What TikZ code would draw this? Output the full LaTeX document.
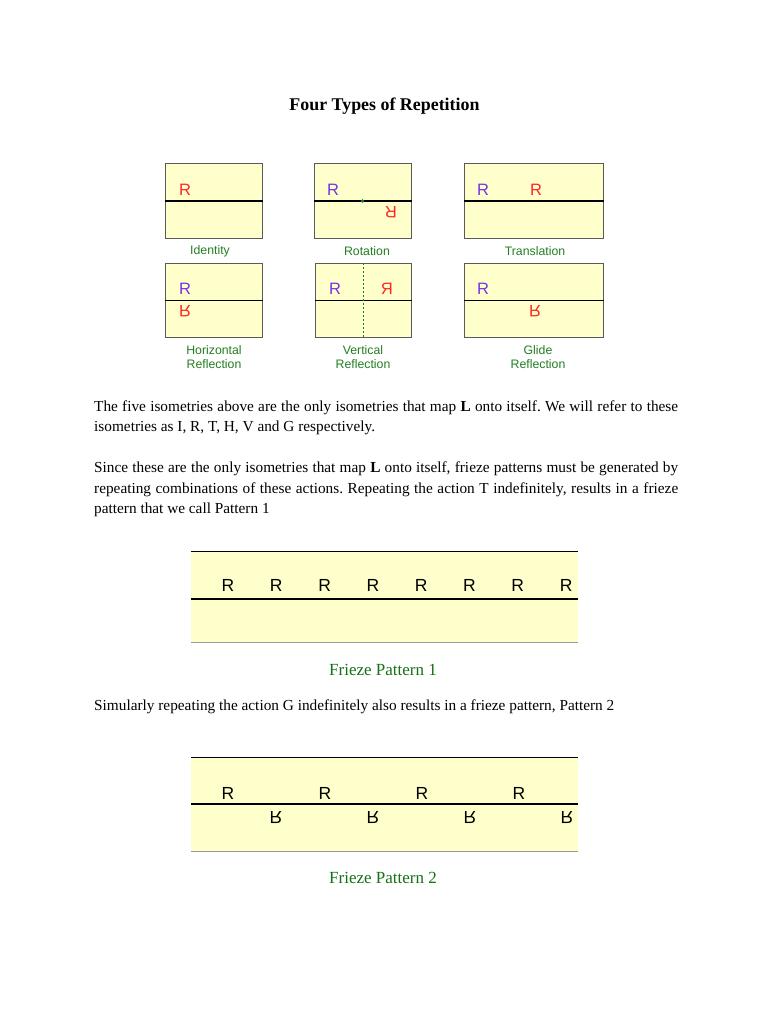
\documentclass[tikz,border=0pt]{standalone}
\usepackage{fontspec}
\setmainfont{Liberation Serif}
\newfontfamily\figfont{Liberation Sans}
\usetikzlibrary{positioning}
\frenchspacing
\definecolor{paleyellow}{HTML}{FFFFCC}
\definecolor{tileedge}{HTML}{5A5A5A}
\definecolor{bandedge}{HTML}{9A9A9A}
\definecolor{labelgreen}{HTML}{237F23}
\definecolor{captiongreen}{HTML}{157015}
\definecolor{glyphred}{HTML}{FF2626}
\definecolor{glyphpurple}{HTML}{7634E4}
\tikzset{
  tile/.style={draw=tileedge,fill=paleyellow,line width=1pt,minimum height=74pt,inner sep=0pt},
  band/.style={fill=paleyellow,minimum width=387pt,inner sep=0pt},
  midline/.style={draw=black,line width=1.3pt},
  glyph/.style={font=\figfont\fontsize{16.5}{17}\selectfont,inner sep=0pt},
  bigglyph/.style={font=\figfont\fontsize{17.5}{18}\selectfont,inner sep=0pt,text=black},
  tilelabel/.style={font=\figfont\fontsize{12.3}{14}\selectfont,text=labelgreen,align=center,inner sep=0pt},
  prose/.style={font=\fontsize{15.3}{20.5}\selectfont,anchor=base west,inner sep=0pt},
  figcaption/.style={font=\fontsize{17}{20}\selectfont,text=captiongreen,anchor=base,inner sep=0pt}
}
\begin{document}
\begin{tikzpicture}[x=1pt,y=-1pt,
  mirrorline/.style={draw=labelgreen,line width=1pt,dash pattern=on 2pt off 2pt}]
  \useasboundingbox[fill=white] (0,0) rectangle (768,1024);
  \node[anchor=base,font=\bfseries\fontsize{17.9}{20}\selectfont] (title) at (384.5,111) {Four Types of Repetition};

  % the six isometries
  \node[tile,minimum width=97pt] (ident) at (213.5,201) {};
  \node[tile,minimum width=97pt] (rot) at (362.5,201) {};
  \node[tile,minimum width=139pt] (trans) at (533.5,201) {};
  \node[tile,minimum width=97pt] (horiz) at (213.5,300.5) {};
  \node[tile,minimum width=96pt] (vert) at (363,300.5) {};
  \node[tile,minimum width=139pt] (glide) at (533.5,300.5) {};
  \foreach \t in {ident,rot,trans,horiz,vert,glide}
    \draw[midline,line width=1.2pt] (\t.west) -- (\t.east);
  \draw[mirrorline] (vert.north) -- (vert.south);
  \fill[labelgreen] (rot.center) circle (1.8pt);

  \node[glyph,text=glyphred] (identR) at (185,190) {R};
  \node[glyph,text=glyphpurple] (rotR) at (333,190) {R};
  \node[glyph,text=glyphred,rotate=180] (rotR2) at (391,212) {R};
  \node[glyph,text=glyphpurple] (transR) at (483,190) {R};
  \node[glyph,text=glyphred] (transR2) at (536,190) {R};
  \node[glyph,text=glyphpurple] (horizR) at (185,289) {R};
  \node[glyph,text=glyphred,yscale=-1] (horizR2) at (185,311) {R};
  \node[glyph,text=glyphpurple] (vertR) at (335,289) {R};
  \node[glyph,text=glyphred,xscale=-1] (vertR2) at (387,289) {R};
  \node[glyph,text=glyphpurple] (glideR) at (483,289) {R};
  \node[glyph,text=glyphred,yscale=-1] (glideR2) at (535,311) {R};

  \node[tilelabel] (identlab) at (210,251) {Identity};
  \node[tilelabel] (rotlab) at (367,251) {Rotation};
  \node[tilelabel] (translab) at (535,251) {Translation};
  \node[tilelabel] (horizlab) at (214,357.5) {Horizontal\\Reflection};
  \node[tilelabel] (vertlab) at (363,357.5) {Vertical\\Reflection};
  \node[tilelabel] (glidelab) at (538,357.5) {Glide\\Reflection};

  % text
  \node[prose] (para1a) at (94,411) {\makebox[584pt][s]{The five isometries above are the only isometries that map \textbf{L} onto itself. We will refer to these}};
  \node[prose] (para1b) at (94,431) {isometries as I, R, T, H, V and G respectively.};
  \node[prose] (para2a) at (94,472) {\makebox[584pt][s]{Since these are the only isometries that map \textbf{L} onto itself, frieze patterns must be generated by}};
  \node[prose] (para2b) at (94,493) {\makebox[584pt][s]{repeating combinations of these actions. Repeating the action T indefinitely, results in a frieze}};
  \node[prose] (para2c) at (94,513) {pattern that we call Pattern 1};

  % pattern 1
  \node[band,minimum height=90pt] (band1) at (384.5,597) {};
  \draw[black,line width=1pt] (band1.north west) -- (band1.north east);
  \draw[bandedge,line width=1pt] (band1.south west) -- (band1.south east);
  \draw[midline,line width=2pt] ([yshift=-2pt]band1.west) -- ([yshift=-2pt]band1.east);
  \foreach \i in {0,...,7}
    \node[bigglyph] (p1r\i) at (228+48.3*\i,585) {R};
  \node[figcaption] (cap1) at (383,675) {Frieze Pattern 1};

  \node[prose] (para3) at (94,710) {Simularly repeating the action G indefinitely also results in a frieze pattern, Pattern 2};

  % pattern 2
  \node[band,minimum height=93pt] (band2) at (384.5,804.5) {};
  \draw[black,line width=1pt] (band2.north west) -- (band2.north east);
  \draw[bandedge,line width=1pt] (band2.south west) -- (band2.south east);
  \draw[midline,line width=2pt] ([yshift=0.5pt]band2.west) -- ([yshift=0.5pt]band2.east);
  \foreach \i in {0,...,3} {
    \node[bigglyph] (p2a\i) at (228+97*\i,793) {R};
    \node[bigglyph,yscale=-1] (p2b\i) at (276+97*\i,818) {R};
  }
  \node[figcaption] (cap2) at (383,883) {Frieze Pattern 2};
\end{tikzpicture}
\end{document}
